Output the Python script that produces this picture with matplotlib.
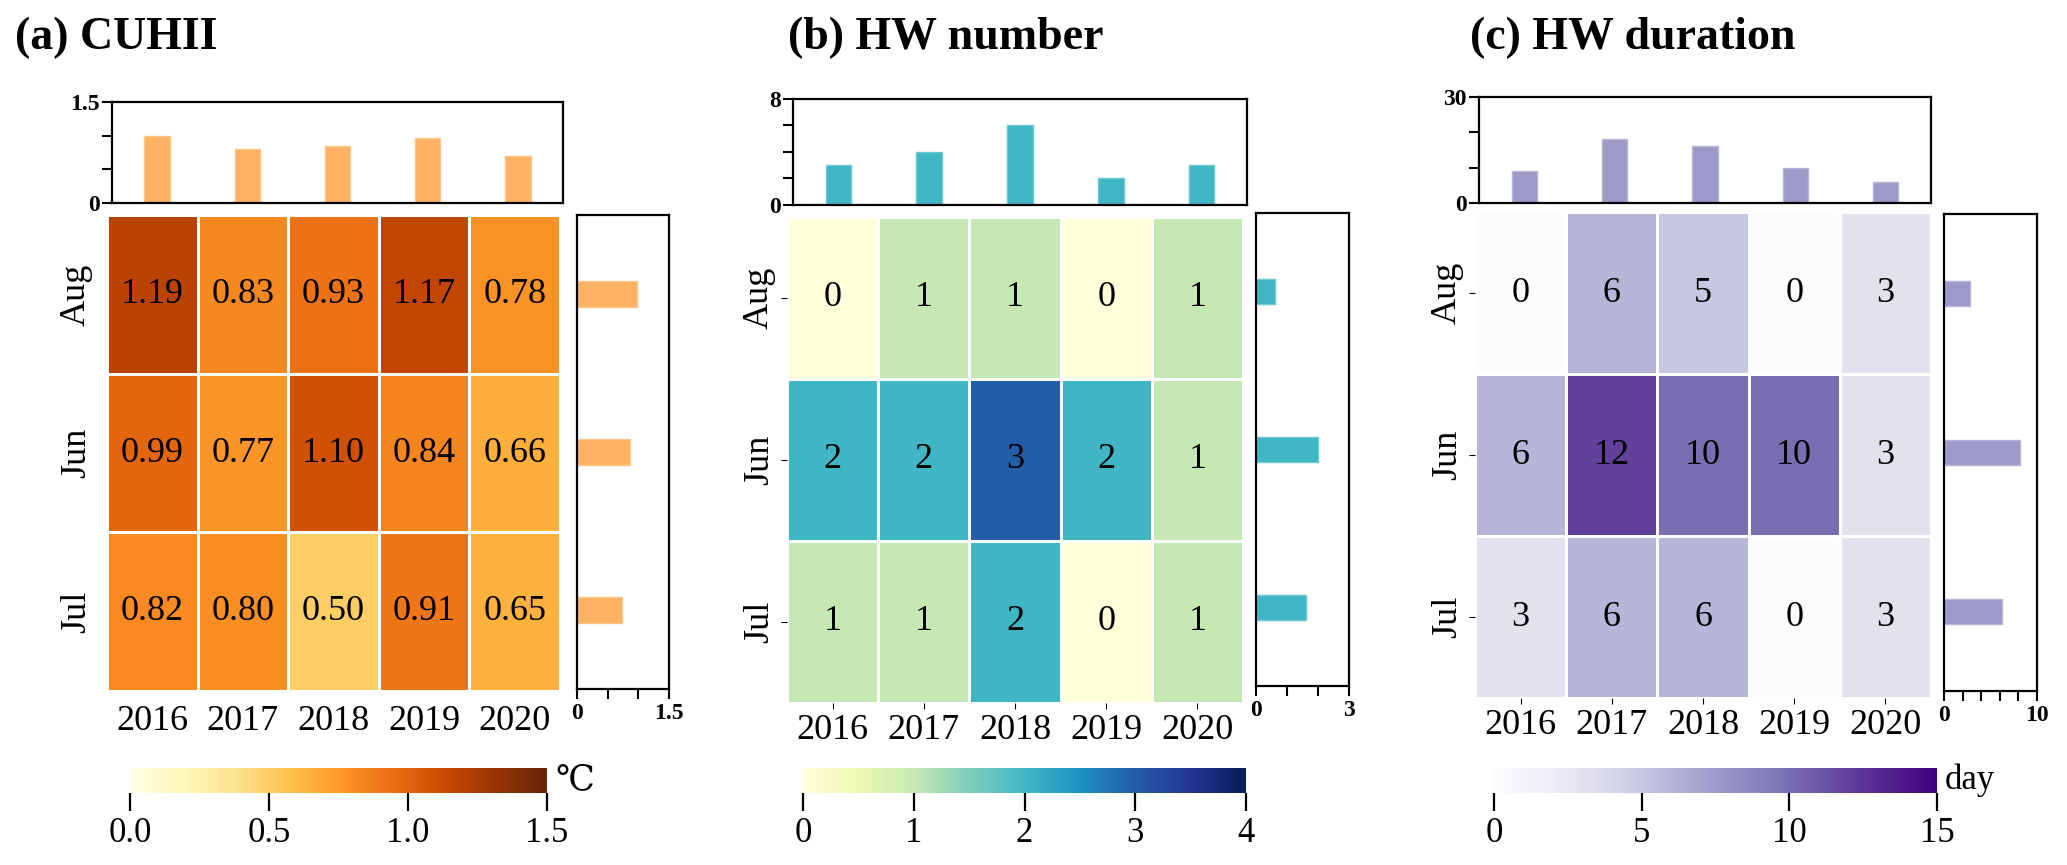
import matplotlib
matplotlib.use('Agg')
import matplotlib.pyplot as plt
import numpy as np

plt.rcParams['font.family'] = ['Liberation Serif', 'DejaVu Serif']

######## DATA

years = ['2016', '2017', '2018', '2019', '2020']
months = ['Aug', 'Jun', 'Jul']

cuhii = [[1.19, 0.83, 0.93, 1.17, 0.78],
         [0.99, 0.77, 1.10, 0.84, 0.66],
         [0.82, 0.80, 0.50, 0.91, 0.65]]
cuhii_year = [1.00, 0.80, 0.84, 0.97, 0.70]
cuhii_month = [0.98, 0.87, 0.74]

hw_num = [[0, 1, 1, 0, 1],
          [2, 2, 3, 2, 1],
          [1, 1, 2, 0, 1]]
hw_num_year = [3, 4, 6, 2, 3]
hw_num_month = [0.6, 2.0, 1.6]

hw_dur = [[0, 6, 5, 0, 3],
          [6, 12, 10, 10, 3],
          [3, 6, 6, 0, 3]]
hw_dur_year = [9, 18, 16, 10, 6]
hw_dur_month = [2.8, 8.2, 6.2]

######## LAYOUT (pixel boxes of the 2067x865 picture)

W, H = 2067, 865

def box(x0, y0, x1, y1):
  return [x0 / W, 1 - y1 / H, (x1 - x0) / W, (y1 - y0) / H]

panels = [
  dict(title='(a) CUHII', tx=15, data=cuhii, top=cuhii_year, right=cuhii_month,
       cmap='YlOrBr', vmax=1.5, fmt='{:.2f}', barcolor='#fdb163', edge='#fdc78a',
       topticks=[0, 0.5, 1.0, 1.5], toplab=['0', '', '', '1.5'],
       rticks=[0, 0.5, 1.0, 1.5], rlab=['0', '', '', '1.5'],
       cticks=[0, 0.5, 1.0, 1.5], clab=['0.0', '0.5', '1.0', '1.5'], cunit='\u2103',
       heat=(107, 215, 560, 691), topax=(112, 102, 563, 203), rax=(577, 215, 669, 689),
       cax=(130, 768, 547, 793), hticks=False),
  dict(title='(b) HW number', tx=788, data=hw_num, top=hw_num_year, right=hw_num_month,
       cmap='YlGnBu', vmax=4, fmt='{:.0f}', barcolor='#41b6c4', edge='#6cc8d2',
       topticks=[0, 2, 4, 6, 8], toplab=['0', '', '', '', '8'],
       rticks=[0, 1, 2, 3], rlab=['0', '', '', '3'],
       cticks=[0, 1, 2, 3, 4], clab=['0', '1', '2', '3', '4'], cunit='',
       heat=(787, 217, 1243, 703), topax=(793, 99, 1247, 205), rax=(1256, 213, 1349, 686),
       cax=(803, 768, 1246, 793), hticks=True),
  dict(title='(c) HW duration', tx=1470, data=hw_dur, top=hw_dur_year, right=hw_dur_month,
       cmap='Purples', vmax=15, fmt='{:.0f}', barcolor='#9e9ac8', edge='#b8b5d8',
       topticks=[0, 10, 20, 30], toplab=['0', '', '', '30'],
       rticks=[0, 2, 4, 6, 8, 10], rlab=['0', '', '', '', '', '10'],
       cticks=[0, 5, 10, 15], clab=['0', '5', '10', '15'], cunit='day',
       heat=(1475, 212, 1931, 698), topax=(1479, 97, 1931, 203), rax=(1944, 214, 2037, 691),
       cax=(1494, 768, 1937, 793), hticks=True),
]

fig = plt.figure(figsize=(W / 100, H / 100), dpi=100)

for p in panels:
  data = np.array(p['data'], dtype=float)

  # heatmap
  ax = fig.add_axes(box(*p['heat']))
  mesh = ax.pcolormesh(np.arange(len(years) + 1), np.arange(len(months) + 1), data,
                       cmap=p['cmap'], vmin=0, vmax=p['vmax'],
                       edgecolors='white', linewidth=1)
  ax.set_xlim(0, len(years))
  ax.set_ylim(len(months), 0)
  for i in range(len(months)):
    for j in range(len(years)):
      ax.text(j + 0.5, i + 0.5, p['fmt'].format(data[i, j]), ha='center', va='center',
              fontsize=26, color='black')
  ax.set_xticks(np.arange(len(years)) + 0.5)
  ax.set_xticklabels(years, fontsize=26)
  ax.set_yticks(np.arange(len(months)) + 0.5)
  ax.set_yticklabels(months, fontsize=26, rotation=90, va='center')
  for s in ax.spines.values():
    s.set_visible(False)
  if p['hticks']:
    ax.tick_params(length=4, width=0.8, pad=4)
  else:
    ax.tick_params(length=0, pad=10)

  # top bars (per year)
  axt = fig.add_axes(box(*p['topax']))
  axt.bar(np.arange(len(years)), p['top'], width=0.28, color=p['barcolor'],
          edgecolor=p['edge'], linewidth=1)
  axt.set_xlim(-0.5, len(years) - 0.5)
  axt.set_ylim(p['topticks'][0], p['topticks'][-1])
  axt.set_xticks([])
  axt.set_yticks(p['topticks'])
  axt.set_yticklabels(p['toplab'], fontsize=17, fontweight='bold')
  axt.tick_params(axis='y', length=7, width=1.5, pad=2)
  for s in axt.spines.values():
    s.set_linewidth(1.6)

  # right bars (per month)
  axr = fig.add_axes(box(*p['rax']))
  axr.barh(np.arange(len(months)), p['right'], height=0.16, color=p['barcolor'],
           edgecolor=p['edge'], linewidth=1)
  axr.set_ylim(len(months) - 0.5, -0.5)
  axr.set_xlim(p['rticks'][0], p['rticks'][-1])
  axr.set_yticks([])
  axr.set_xticks(p['rticks'])
  axr.set_xticklabels(p['rlab'], fontsize=17, fontweight='bold')
  axr.tick_params(axis='x', length=7, width=1.5, pad=3)
  for s in axr.spines.values():
    s.set_linewidth(1.6)

  # colorbar
  cax = fig.add_axes(box(*p['cax']))
  cb = fig.colorbar(mesh, cax=cax, orientation='horizontal', ticks=p['cticks'])
  cb.set_ticklabels(p['clab'])
  cb.outline.set_visible(False)
  cax.tick_params(length=13, width=1.6, labelsize=25, pad=4)
  if p['cunit']:
    x1, y0, y1 = p['cax'][2], p['cax'][1], p['cax'][3]
    fig.text((x1 + 8) / W, 1 - (y0 + y1) / 2 / H, p['cunit'], fontsize=25,
             ha='left', va='center')

  fig.text(p['tx'] / W, 1 - 49 / H, p['title'], fontsize=33, fontweight='bold',
           ha='left', va='baseline')

plt.savefig('out.png', dpi=100)
